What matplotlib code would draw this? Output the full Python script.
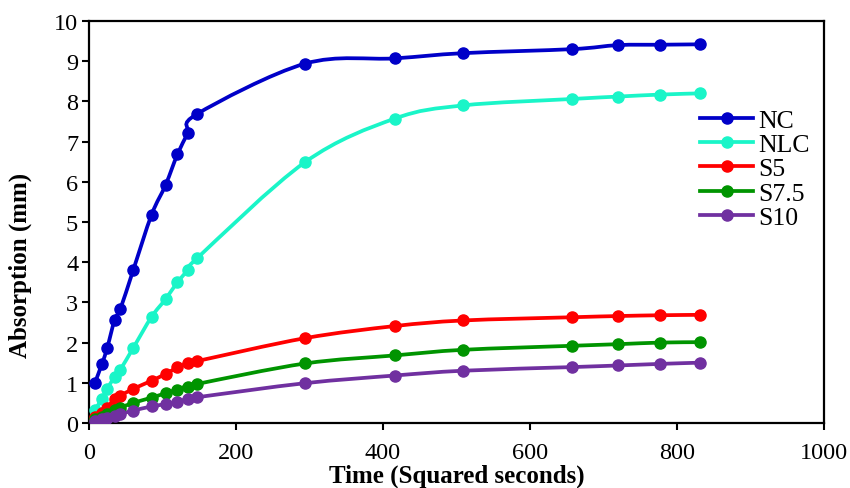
import matplotlib
matplotlib.use('Agg')
import matplotlib.pyplot as plt
from matplotlib.path import Path
from matplotlib.patches import PathPatch
from matplotlib.lines import Line2D
import numpy as np

plt.rcParams['font.family'] = ['Liberation Serif', 'DejaVu Serif']

# time axis: square root of elapsed seconds
time = [7.75, 17.32, 24.49, 34.64, 42.43, 60.0, 84.85, 103.92, 120.0, 134.16,
        146.97, 293.94, 415.69, 509.12, 657.27, 720.0, 777.69, 831.38]

nc = [1.0, 1.47, 1.87, 2.57, 2.84, 3.81, 5.18, 5.92, 6.68, 7.21,
      7.69, 8.94, 9.07, 9.2, 9.3, 9.4, 9.41, 9.42]
nlc = [0.33, 0.6, 0.85, 1.15, 1.33, 1.87, 2.64, 3.08, 3.5, 3.8,
       4.1, 6.49, 7.57, 7.9, 8.06, 8.12, 8.17, 8.2]
s5 = [0.15, 0.25, 0.38, 0.6, 0.68, 0.85, 1.05, 1.22, 1.38, 1.49,
      1.54, 2.11, 2.41, 2.55, 2.63, 2.66, 2.68, 2.69]
s75 = [0.1, 0.15, 0.22, 0.32, 0.38, 0.5, 0.63, 0.74, 0.83, 0.89,
       0.97, 1.48, 1.68, 1.82, 1.92, 1.96, 2.0, 2.01]
s10 = [0.05, 0.1, 0.13, 0.18, 0.22, 0.31, 0.41, 0.47, 0.53, 0.6,
       0.64, 0.99, 1.18, 1.3, 1.39, 1.43, 1.47, 1.5]

names = ['NC', 'NLC', 'S5', 'S7.5', 'S10']
colors = ['#0000C8', '#1AF5C8', '#FF0000', '#009400', '#7030A0']
series = [nc, nlc, s5, s75, s10]


def smooth_path(x, y):
    # excel style smoothed line: catmull-rom segments as cubic beziers
    p = np.column_stack([x, y])
    verts = [p[0]]
    codes = [Path.MOVETO]
    n = len(p)
    for i in range(n - 1):
        p0 = p[i - 1] if i > 0 else p[i]
        p3 = p[i + 2] if i + 2 < n else p[i + 1]
        c1 = p[i] + (p[i + 1] - p0) / 6
        c2 = p[i + 1] - (p3 - p[i]) / 6
        verts += [c1, c2, p[i + 1]]
        codes += [Path.CURVE4] * 3
    return Path(verts, codes)


fig = plt.figure(figsize=(8.5, 4.89), dpi=100)
ax = fig.add_axes([0.105, 0.133, 0.864, 0.822])

handles = []
for name, col, ys in zip(names, colors, series):
    ax.add_patch(PathPatch(smooth_path(time, ys), facecolor='none',
                           edgecolor=col, lw=2.7, zorder=2))
    ax.plot(time, ys, 'o', color=col, ms=8, zorder=3)
    handles.append(Line2D([], [], color=col, lw=2.7, marker='o', ms=8))

ax.set_xlim(0, 1000)
ax.set_ylim(0, 10)
ax.set_xticks(range(0, 1001, 200))
ax.set_yticks(range(0, 11))
ax.tick_params(direction='out', length=5, width=1.5, labelsize=17.5)
ax.tick_params(axis='x', pad=9)
ax.tick_params(axis='y', pad=3)
for s in ax.spines.values():
    s.set_linewidth(1.6)

ax.set_xlabel('Time (Squared seconds)', fontsize=18, fontweight='bold', labelpad=0)
ax.set_ylabel('Absorption (mm)', fontsize=18, fontweight='bold')
ax.yaxis.set_label_coords(-0.078, 0.395)

ax.legend(handles, names, loc='center left', bbox_to_anchor=(0.832, 0.632),
          frameon=False, fontsize=18.5, handlelength=2.05, handletextpad=0.2,
          labelspacing=0.05, borderaxespad=0, borderpad=0)

fig.savefig('out.png', dpi=100)
